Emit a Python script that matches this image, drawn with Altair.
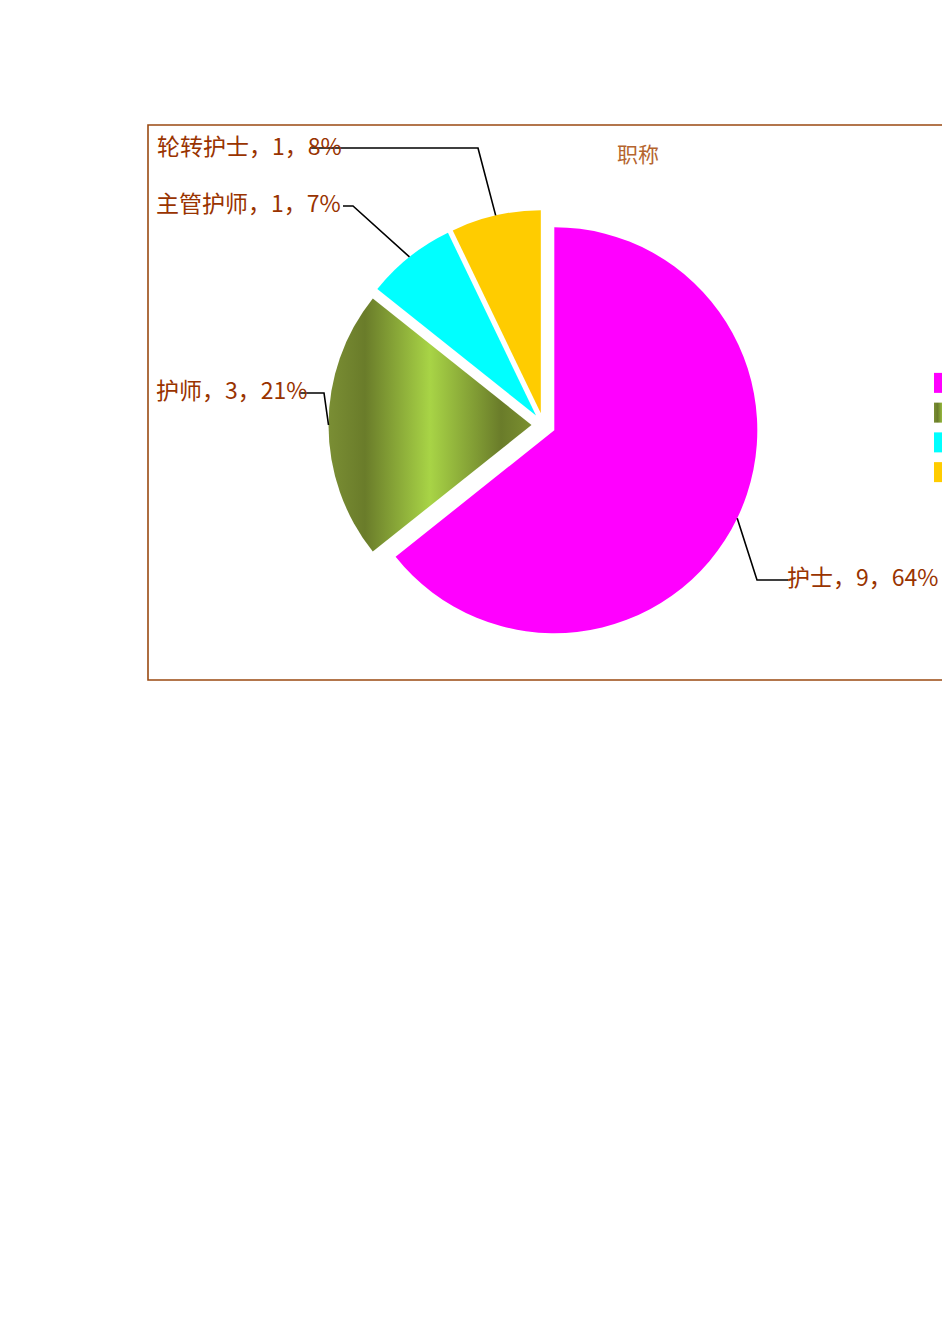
import math
import altair as alt
import pandas as pd

# ---------------- data ----------------
CATS = ["护士", "护师", "主管护师", "轮转护士"]
COUNTS = [9, 3, 1, 1]
PCTS = ["64%", "21%", "7%", "8%"]
TITLE = "职称"

# ---------------- style / layout ----------------
COLORS = {"护士": "#FF00FF", "主管护师": "#00FFFF", "轮转护士": "#FFCC00"}
OLIVE = alt.Gradient(
    gradient="linear", x1=0, x2=1, y1=0, y2=0,
    stops=[
        alt.GradientStop(offset=0.0, color="#7A8E34"),
        alt.GradientStop(offset=0.18, color="#6A7C2A"),
        alt.GradientStop(offset=0.5, color="#A8D446"),
        alt.GradientStop(offset=0.85, color="#6A7C2A"),
        alt.GradientStop(offset=1.0, color="#7B9030"),
    ],
)
OFF = 8                          # page margin
W, H = 934, 700
CX, CY = 543.5 - OFF, 425 - OFF  # pie centre (view px)
R = 203
EXPLODE = 12
TXT = "#993300"
FONT = "Noto Sans CJK SC"
FS = 23
# label anchors and leader elbows (page px)
LABEL_XY = {"护士": (787, 579), "护师": (156, 392), "主管护师": (156, 205), "轮转护士": (157, 148)}
ELBOWS = {
    "护士": [(757, 580), (788, 580)],
    "护师": [(324, 393), (300, 393)],
    "主管护师": [(353, 206), (343, 206)],
    "轮转护士": [(478, 148), (310, 148)],
}

total = sum(COUNTS)
rows = []
cum = 0
for i, (c, n, p) in enumerate(zip(CATS, COUNTS, PCTS)):
    t0, t1 = cum, cum + n
    cum = t1
    mid = (t0 + t1) / total * math.pi
    cx = CX + EXPLODE * math.sin(mid)
    cy = CY - EXPLODE * math.cos(mid)
    rows.append(dict(idx=i, cat=c, count=n, pct=p, t0=t0, t1=t1, cx=cx, cy=cy,
                     ax=cx + R * math.sin(mid), ay=cy - R * math.cos(mid),
                     label=f"{c}，{n}，{p}",
                     lx=LABEL_XY[c][0] - OFF, ly=LABEL_XY[c][1] - OFF))
df = pd.DataFrame(rows)

lead = []
for r in rows:
    pts = [(r["ax"], r["ay"])] + [(x - OFF, y - OFF) for x, y in ELBOWS[r["cat"]]]
    for k, (x, y) in enumerate(pts):
        lead.append(dict(cat=r["cat"], step=k, x=x, y=y))
lead_df = pd.DataFrame(lead)

theta_scale = alt.Scale(domain=[0, total], range=[0, 2 * math.pi])
base = alt.Chart(df)

frame = alt.Chart(pd.DataFrame({"a": [0]})).mark_rect(
    fill=None, stroke="#9A4A12", strokeWidth=1.6, clip=True
).encode(x=alt.value(148 - OFF), x2=alt.value(W + 30), y=alt.value(125 - OFF), y2=alt.value(680 - OFF))

arcs = base.transform_filter(alt.datum.cat != "护师").mark_arc(radius=R).encode(
    x=alt.X("cx:Q", scale=None),
    y=alt.Y("cy:Q", scale=None),
    theta=alt.Theta("t0:Q", scale=theta_scale),
    theta2="t1:Q",
    color=alt.Color("cat:N", scale=alt.Scale(domain=list(COLORS), range=list(COLORS.values())), legend=None),
)
olive_arc = base.transform_filter(alt.datum.cat == "护师").mark_arc(radius=R, fill=OLIVE).encode(
    x=alt.X("cx:Q", scale=None),
    y=alt.Y("cy:Q", scale=None),
    theta=alt.Theta("t0:Q", scale=theta_scale),
    theta2="t1:Q",
)

leaders = alt.Chart(lead_df).mark_line(color="black", strokeWidth=1.6).encode(
    x=alt.X("x:Q", scale=None),
    y=alt.Y("y:Q", scale=None),
    detail="cat:N",
    order="step:Q",
)

labels = base.mark_text(align="left", baseline="middle", font=FONT, fontSize=FS, color=TXT).encode(
    x=alt.X("lx:Q", scale=None),
    y=alt.Y("ly:Q", scale=None),
    text="label:N",
)

title = alt.Chart(pd.DataFrame({"t": [TITLE]})).mark_text(
    font=FONT, fontSize=21, color="#B5642E", align="center", baseline="middle"
).encode(x=alt.value(638 - OFF), y=alt.value(156 - OFF), text="t:N")

leg_y = alt.Y("cat:N", scale=alt.Scale(domain=CATS, range=[368 - OFF, 487 - OFF]), axis=None)
legend = base.transform_filter(alt.datum.cat != "护师").mark_rect(width=20, height=20, clip=True).encode(
    x=alt.value(W + 2),
    y=leg_y,
    color=alt.Color("cat:N", scale=alt.Scale(domain=list(COLORS), range=list(COLORS.values())), legend=None),
)
legend_olive = base.transform_filter(alt.datum.cat == "护师").mark_rect(
    width=20, height=20, clip=True, fill=OLIVE
).encode(x=alt.value(W + 2), y=leg_y)

chart = alt.layer(frame, arcs, olive_arc, leaders, labels, title, legend, legend_olive).resolve_scale(
    y="independent"
).properties(
    width=W, height=H, padding=0, autosize="none", background="white"
).configure_view(strokeWidth=0)

chart.save("out.html", embed_options={"renderer": "svg", "actions": False})
